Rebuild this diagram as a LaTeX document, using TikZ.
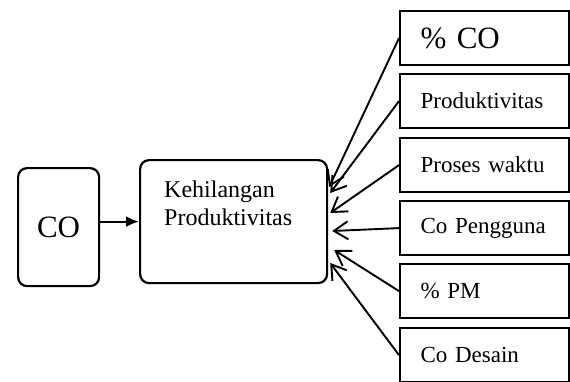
\documentclass[tikz,border=0pt]{standalone}
\usepackage{fontspec}
\setmainfont{Liberation Serif}[WordSpace=0.6]
\usetikzlibrary{arrows.meta,calc}
\begin{document}
\begin{tikzpicture}[x=1pt,y=-1pt,
  box/.style={draw,line width=2.2pt},
  rbox/.style={box,rounded corners=9pt,inner sep=0pt},
  factor/.style={box,anchor=north west,minimum width=169pt,minimum height=54pt,
    inner xsep=10.5pt,inner ysep=0pt,text width=148pt,align=left,
    execute at begin node={\hspace*{10pt}},
    font=\fontsize{23}{25}\selectfont},
  big/.style={font=\fontsize{31}{33}\selectfont},
  feed/.style={line width=1.9pt,-{Straight Barb[length=14pt,width=18pt,line width=1.9pt]}},
  push/.style={line width=2.2pt,-{Latex[length=13pt,width=11pt]}}]
\useasboundingbox (0,0) rectangle (570,381);

% cause and effect
\node[rbox,anchor=north west,minimum width=81pt,minimum height=118pt,big] (co) at (17,167) {CO};
\node[rbox,anchor=north west,minimum width=187pt,minimum height=123pt] (kp) at (139,159) {};
\node[anchor=north west,inner sep=0pt,align=left,font=\fontsize{24}{28}\selectfont] (kpt) at (164,181)
  {Kehilangan\\Produktivitas};
\draw[push] (co.east |- kp.west) -- (kp.west);

% contributing factors
\node[factor,big] (f1) at (399,10) {\% CO};
\node[factor] (f2) at (399,73) {Produktivitas};
\node[factor] (f3) at (399,137) {Proses waktu};
\node[factor] (f4) at (399,200) {Co Pengguna};
\node[factor] (f5) at (399,263) {\% PM};
\node[factor] (f6) at (399,327) {Co Desain};

% arrow tips along the right side of the effect box
\coordinate (e1) at ($(kp.north east)+(1,28)$);
\coordinate (e2) at ($(kp.north east)+(2,34)$);
\coordinate (e3) at ($(kp.north east)+(2,54)$);
\coordinate (e4) at ($(kp.north east)+(4,72)$);
\coordinate (e5) at ($(kp.north east)+(6,91)$);
\coordinate (e6) at ($(kp.north east)+(2,104)$);

\draw[feed] (f1.west) -- (e1);
\draw[feed] (f2.west) -- (e2);
\draw[feed] (f3.west) -- (e3);
\draw[feed] (f4.west) -- (e4);
\draw[feed] (f5.west) -- (e5);
\draw[feed] (f6.west) -- (e6);
\end{tikzpicture}
\end{document}
